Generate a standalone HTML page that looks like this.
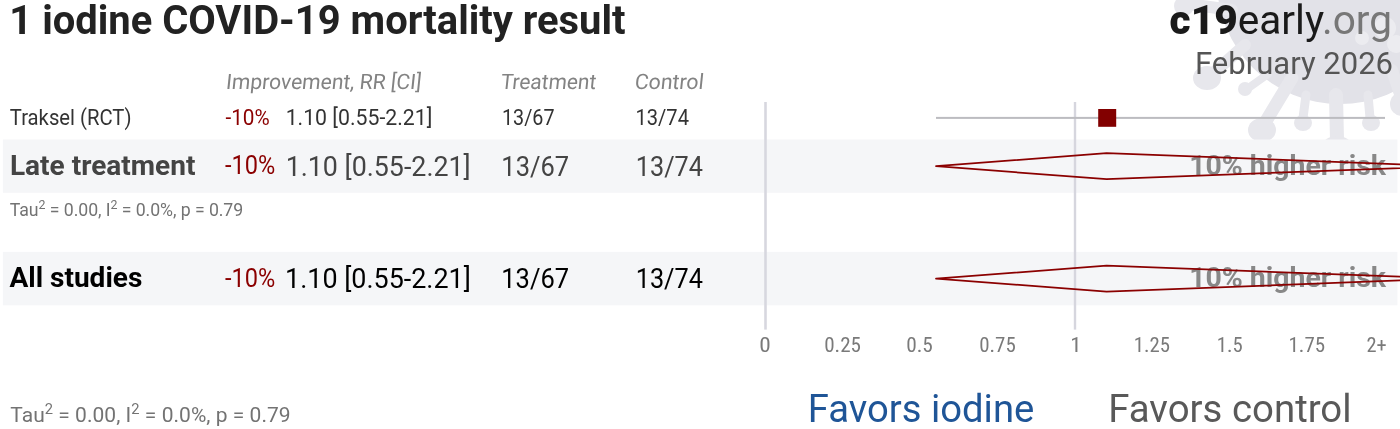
<!DOCTYPE html>
<html><head><meta charset="utf-8"><title>iodine COVID-19 mortality</title>
<style>
html,body{margin:0;padding:0;background:#fff;width:1400px;height:429px;overflow:hidden}
svg{display:block}
text{white-space:pre}
</style></head><body>
<svg width="1400" height="429" viewBox="0 0 1400 429">
<g>
<g fill="#e2e2e8" stroke="none">
<circle cx="1340" cy="-19" r="123"/>
</g>
<g fill="#e7e7ec" stroke="none">
<g stroke="#e7e7ec" stroke-linecap="round">
<line x1="1336" y1="95" x2="1337" y2="140" stroke-width="14"/>
<line x1="1306" y1="95" x2="1303" y2="118" stroke-width="9"/>
<line x1="1368" y1="95" x2="1370" y2="118" stroke-width="9"/>
<line x1="1292" y1="78" x2="1263" y2="126" stroke-width="13"/>
<line x1="1268" y1="74" x2="1247" y2="89" stroke-width="8"/>
<line x1="1245" y1="45" x2="1210" y2="76" stroke-width="12"/>
<line x1="1232" y1="10" x2="1188" y2="4" stroke-width="12"/>
<line x1="1392" y1="70" x2="1402" y2="100" stroke-width="12"/>
</g>
<ellipse cx="1337" cy="146" rx="15" ry="10"/>
<ellipse cx="1303" cy="123" rx="9" ry="8"/>
<ellipse cx="1371" cy="123" rx="9" ry="8"/>
<ellipse cx="1262" cy="130" rx="14" ry="12"/>
<ellipse cx="1245" cy="89" rx="7" ry="7"/>
<ellipse cx="1207" cy="78" rx="14" ry="12"/>
<ellipse cx="1184" cy="6" rx="10" ry="10"/>
<ellipse cx="1402" cy="104" rx="12" ry="12"/>
</g>
<g fill="#ececf0">
<circle cx="1385" cy="28" r="11"/>
<circle cx="1396" cy="44" r="9"/>
<circle cx="1362" cy="38" r="7"/>
</g>

</g>
<g>
<rect x="2.9" y="139.5" width="1394.5" height="53.3" fill="#f5f6f8"/>
<rect x="2.9" y="251.9" width="1394.5" height="53.4" fill="#f5f6f8"/>
<rect x="764.2" y="102" width="2.6" height="227.6" fill="#d7d7df"/>
<rect x="1073.8" y="102" width="2.4" height="227.6" fill="#d6d6de"/>
<rect x="936" y="116.9" width="449" height="2" fill="#bcbcc0"/>
<rect x="1098.2" y="109" width="18" height="17.8" fill="#820000"/>
</g>
<text x="1392" y="34" font-family='Roboto,"Liberation Sans",sans-serif' font-size="40.6" text-anchor="end" fill="#1a1a1a"><tspan font-weight="900">c19</tspan>early<tspan fill="#777">.org</tspan></text>
<text x="1393" y="73.8" font-family='Roboto,"Liberation Sans",sans-serif' font-size="31" text-anchor="end" fill="#555">February 2026</text>
<text id="title" x="9.32" y="34.4" font-family='Roboto,"Liberation Sans",sans-serif' font-weight="700" font-style="normal" font-size="40" fill="#222" textLength="616.25" lengthAdjust="spacingAndGlyphs">1 iodine COVID-19 mortality result</text>
<g transform="translate(0,88.6) skewX(-6) translate(0,-88.6)"><text id="hdr_imp" x="225.60" y="88.6" font-family='Roboto,"Liberation Sans",sans-serif' font-weight="400" font-size="21.2" fill="#838383" textLength="195.18" lengthAdjust="spacingAndGlyphs">Improvement, RR [CI]</text></g>
<g transform="translate(0,88.6) skewX(-6) translate(0,-88.6)"><text id="hdr_trt" x="500.20" y="88.6" font-family='Roboto,"Liberation Sans",sans-serif' font-weight="400" font-size="21.2" fill="#838383" textLength="95.38" lengthAdjust="spacingAndGlyphs">Treatment</text></g>
<g transform="translate(0,88.6) skewX(-6) translate(0,-88.6)"><text id="hdr_ctl" x="634.25" y="88.6" font-family='Roboto,"Liberation Sans",sans-serif' font-weight="400" font-size="21.2" fill="#838383" textLength="68.83" lengthAdjust="spacingAndGlyphs">Control</text></g>
<text id="r1_name" x="9.80" y="124.9" font-family='Roboto,"Liberation Sans",sans-serif' font-weight="400" font-style="normal" font-size="21.5" fill="#333" textLength="121.66" lengthAdjust="spacingAndGlyphs">Traksel (RCT)</text>
<text id="r1_pct" x="225.42" y="124.9" font-family='Roboto,"Liberation Sans",sans-serif' font-weight="400" font-style="normal" font-size="22" fill="#8b0000" textLength="44.28" lengthAdjust="spacingAndGlyphs">-10%</text>
<text id="r1_ci" x="285.64" y="124.9" font-family='Roboto,"Liberation Sans",sans-serif' font-weight="400" font-style="normal" font-size="22" fill="#333" textLength="146.71" lengthAdjust="spacingAndGlyphs">1.10 [0.55-2.21]</text>
<text id="r1_t" x="501.93" y="124.9" font-family='Roboto,"Liberation Sans",sans-serif' font-weight="400" font-style="normal" font-size="22" fill="#333" textLength="52.57" lengthAdjust="spacingAndGlyphs">13/67</text>
<text id="r1_c" x="635.53" y="124.9" font-family='Roboto,"Liberation Sans",sans-serif' font-weight="400" font-style="normal" font-size="22" fill="#333" textLength="53.44" lengthAdjust="spacingAndGlyphs">13/74</text>
<text id="r2_name" x="9.93" y="174.9" font-family='Roboto,"Liberation Sans",sans-serif' font-weight="700" font-style="normal" font-size="28" fill="#444" textLength="185.51" lengthAdjust="spacingAndGlyphs">Late treatment</text>
<text id="r2_pct" x="225.12" y="174.1" font-family='Roboto,"Liberation Sans",sans-serif' font-weight="400" font-style="normal" font-size="25" fill="#8b0000" textLength="50.24" lengthAdjust="spacingAndGlyphs">-10%</text>
<text id="r2_ci" x="285.63" y="175.6" font-family='Roboto,"Liberation Sans",sans-serif' font-weight="400" font-style="normal" font-size="28" fill="#444" textLength="185.10" lengthAdjust="spacingAndGlyphs">1.10 [0.55-2.21]</text>
<text id="r2_t" x="501.35" y="175.6" font-family='Roboto,"Liberation Sans",sans-serif' font-weight="400" font-style="normal" font-size="28" fill="#444" textLength="67.70" lengthAdjust="spacingAndGlyphs">13/67</text>
<text id="r2_c" x="635.76" y="175.6" font-family='Roboto,"Liberation Sans",sans-serif' font-weight="400" font-style="normal" font-size="28" fill="#444" textLength="67.18" lengthAdjust="spacingAndGlyphs">13/74</text>
<text id="r3_name" x="9.45" y="287.2" font-family='Roboto,"Liberation Sans",sans-serif' font-weight="700" font-style="normal" font-size="28" fill="#000" textLength="132.90" lengthAdjust="spacingAndGlyphs">All studies</text>
<text id="r3_pct" x="225.12" y="286.5" font-family='Roboto,"Liberation Sans",sans-serif' font-weight="400" font-style="normal" font-size="25" fill="#8b0000" textLength="50.24" lengthAdjust="spacingAndGlyphs">-10%</text>
<text id="r3_ci" x="285.09" y="288.0" font-family='Roboto,"Liberation Sans",sans-serif' font-weight="400" font-style="normal" font-size="28" fill="#000" textLength="185.71" lengthAdjust="spacingAndGlyphs">1.10 [0.55-2.21]</text>
<text id="r3_t" x="501.29" y="288.0" font-family='Roboto,"Liberation Sans",sans-serif' font-weight="400" font-style="normal" font-size="28" fill="#000" textLength="67.79" lengthAdjust="spacingAndGlyphs">13/67</text>
<text id="r3_c" x="635.70" y="288.0" font-family='Roboto,"Liberation Sans",sans-serif' font-weight="400" font-style="normal" font-size="28" fill="#000" textLength="67.26" lengthAdjust="spacingAndGlyphs">13/74</text>
<text id="risk2" x="1189.14" y="174.6" font-family='Roboto,"Liberation Sans",sans-serif' font-weight="700" font-style="normal" font-size="28.4" fill="#888" textLength="196.90" lengthAdjust="spacingAndGlyphs">10% higher risk</text>
<text id="risk3" x="1189.14" y="287.0" font-family='Roboto,"Liberation Sans",sans-serif' font-weight="700" font-style="normal" font-size="28.4" fill="#888" textLength="196.90" lengthAdjust="spacingAndGlyphs">10% higher risk</text>
<text id="ax0" x="759.20" y="352.0" font-family='"Roboto Condensed",Roboto,"Liberation Sans Narrow","Liberation Sans",sans-serif' font-weight="400" font-style="normal" font-size="20.5" fill="#7a7a7a" textLength="11.51" lengthAdjust="spacingAndGlyphs">0</text>
<text id="ax1" x="824.20" y="352.0" font-family='"Roboto Condensed",Roboto,"Liberation Sans Narrow","Liberation Sans",sans-serif' font-weight="400" font-style="normal" font-size="20.5" fill="#7a7a7a" textLength="36.79" lengthAdjust="spacingAndGlyphs">0.25</text>
<text id="ax2" x="906.20" y="352.0" font-family='"Roboto Condensed",Roboto,"Liberation Sans Narrow","Liberation Sans",sans-serif' font-weight="400" font-style="normal" font-size="20.5" fill="#7a7a7a" textLength="26.69" lengthAdjust="spacingAndGlyphs">0.5</text>
<text id="ax3" x="979.20" y="352.0" font-family='"Roboto Condensed",Roboto,"Liberation Sans Narrow","Liberation Sans",sans-serif' font-weight="400" font-style="normal" font-size="20.5" fill="#7a7a7a" textLength="36.56" lengthAdjust="spacingAndGlyphs">0.75</text>
<text id="ax4" x="1070.37" y="352.0" font-family='"Roboto Condensed",Roboto,"Liberation Sans Narrow","Liberation Sans",sans-serif' font-weight="400" font-style="normal" font-size="20.5" fill="#7a7a7a" textLength="11.20" lengthAdjust="spacingAndGlyphs">1</text>
<text id="ax5" x="1133.86" y="352.0" font-family='"Roboto Condensed",Roboto,"Liberation Sans Narrow","Liberation Sans",sans-serif' font-weight="400" font-style="normal" font-size="20.5" fill="#7a7a7a" textLength="36.22" lengthAdjust="spacingAndGlyphs">1.25</text>
<text id="ax6" x="1216.74" y="352.0" font-family='"Roboto Condensed",Roboto,"Liberation Sans Narrow","Liberation Sans",sans-serif' font-weight="400" font-style="normal" font-size="20.5" fill="#7a7a7a" textLength="25.85" lengthAdjust="spacingAndGlyphs">1.5</text>
<text id="ax7" x="1288.53" y="352.0" font-family='"Roboto Condensed",Roboto,"Liberation Sans Narrow","Liberation Sans",sans-serif' font-weight="400" font-style="normal" font-size="20.5" fill="#7a7a7a" textLength="36.56" lengthAdjust="spacingAndGlyphs">1.75</text>
<text id="ax8" x="1366.56" y="352.0" font-family='"Roboto Condensed",Roboto,"Liberation Sans Narrow","Liberation Sans",sans-serif' font-weight="400" font-style="normal" font-size="20.5" fill="#7a7a7a" textLength="20.20" lengthAdjust="spacingAndGlyphs">2+</text>
<text id="fav_i" x="807.74" y="421.8" font-family='Roboto,"Liberation Sans",sans-serif' font-weight="400" font-style="normal" font-size="39.5" fill="#1f5597" textLength="226.58" lengthAdjust="spacingAndGlyphs">Favors iodine</text>
<text id="fav_c" x="1108.19" y="421.8" font-family='Roboto,"Liberation Sans",sans-serif' font-weight="400" font-style="normal" font-size="39.5" fill="#595959" textLength="243.37" lengthAdjust="spacingAndGlyphs">Favors control</text>
<text id="tau1" x="9.80" y="215.9" font-family='Roboto,"Liberation Sans",sans-serif' font-size="17.7" fill="#737373" textLength="233.41" lengthAdjust="spacing">Tau<tspan font-size="12.4" dy="-7.0">2</tspan><tspan dy="7.0"> = 0.00, I</tspan><tspan font-size="12.4" dy="-7.0">2</tspan><tspan dy="7.0"> = 0.0%, p = 0.79</tspan></text>
<text id="tau2" x="10.32" y="421.8" font-family='Roboto,"Liberation Sans",sans-serif' font-size="21.0" fill="#737373" textLength="280.33" lengthAdjust="spacing">Tau<tspan font-size="14.7" dy="-8.3">2</tspan><tspan dy="8.3"> = 0.00, I</tspan><tspan font-size="14.7" dy="-8.3">2</tspan><tspan dy="8.3"> = 0.0%, p = 0.79</tspan></text>
<g fill="none" stroke="#8b0000" stroke-width="1.75" stroke-linejoin="round">
<polygon points="936,166.2 1106.6,153.2 1449,166.2 1106.6,179.2"/>
<polygon points="936,278.6 1106.6,265.6 1449,278.6 1106.6,291.6"/>
</g>
</svg>
</body></html>
